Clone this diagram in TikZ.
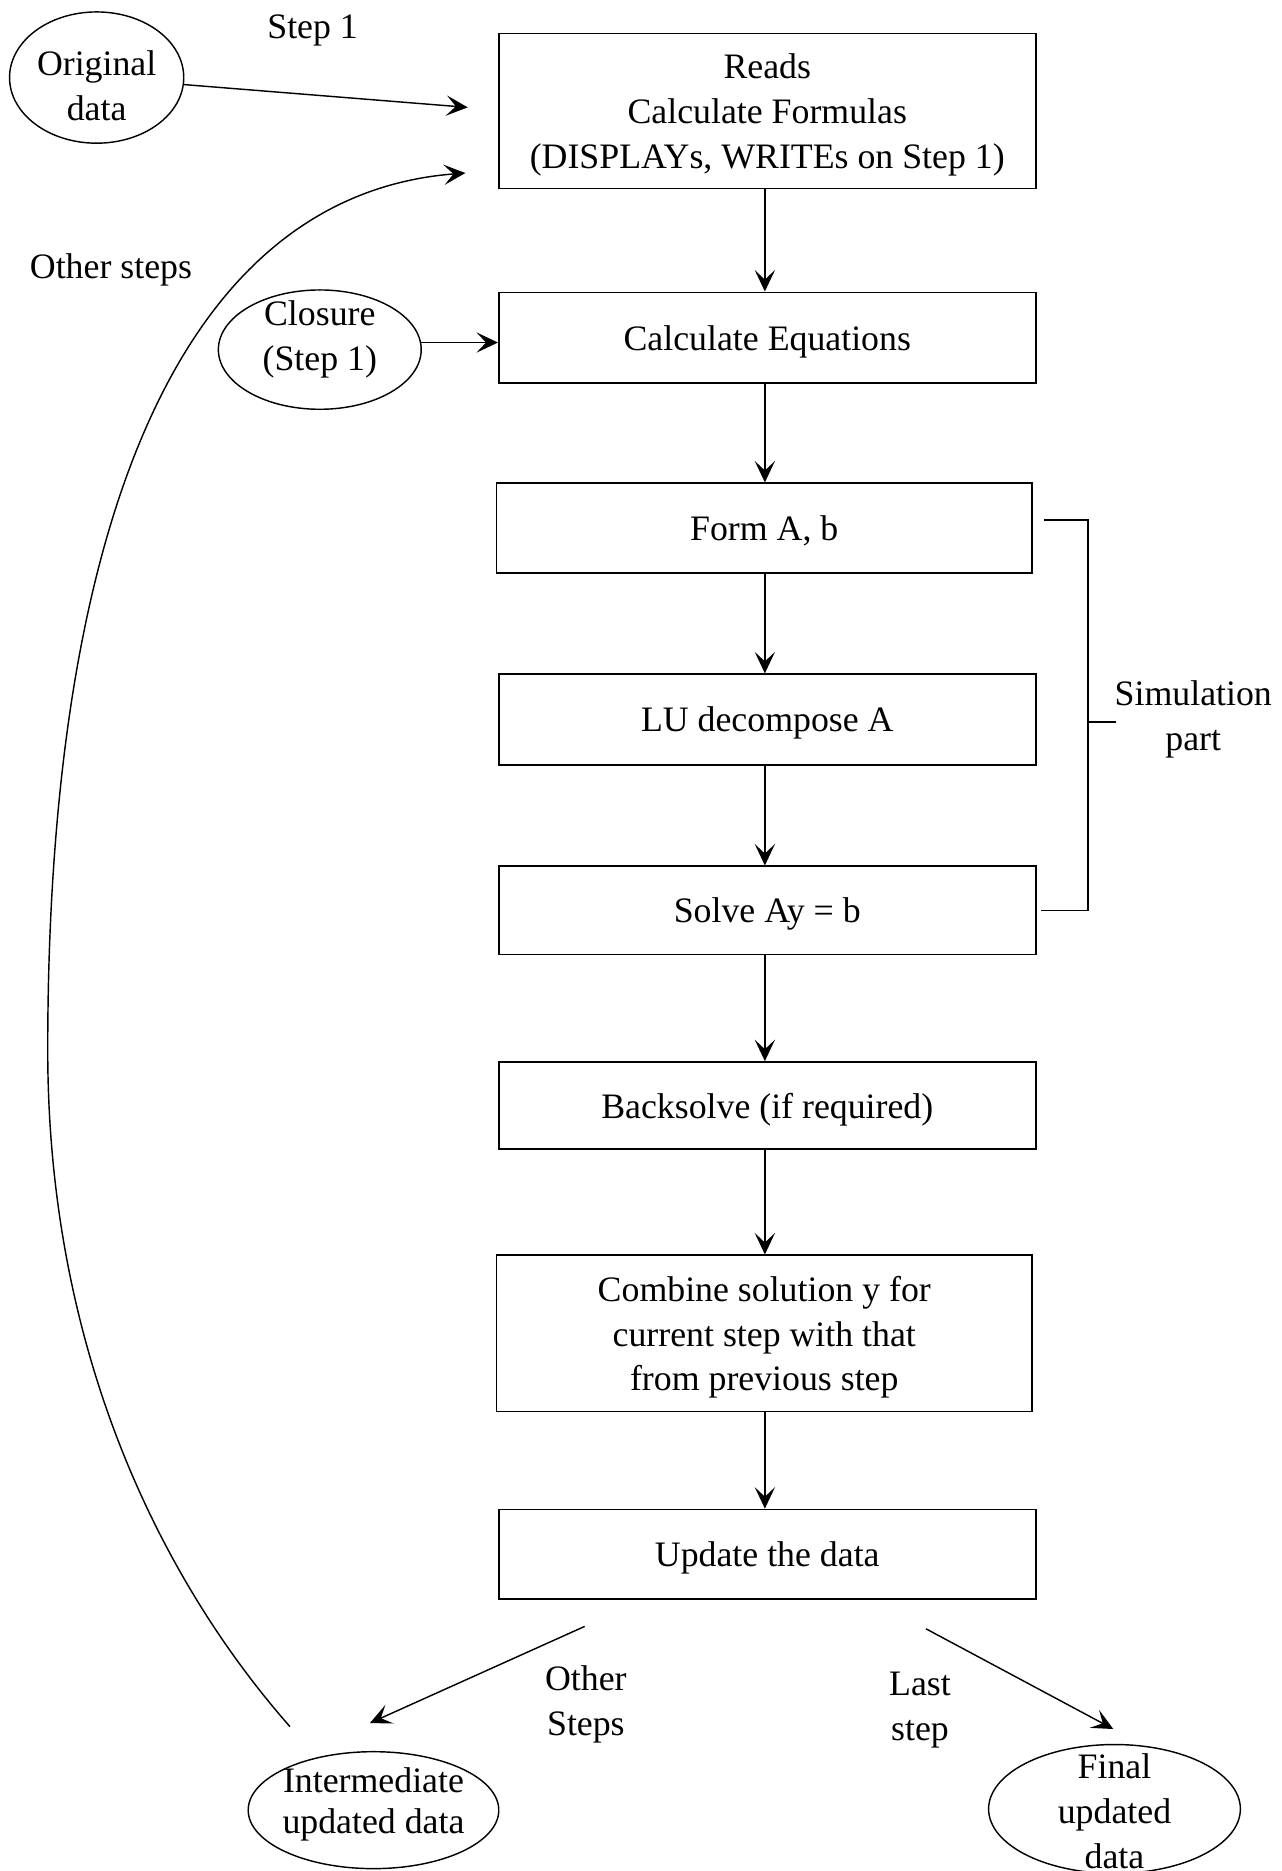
\documentclass[tikz,border=0pt]{standalone}
\usepackage{fontspec}
\setmainfont{Liberation Serif}
\usetikzlibrary{arrows.meta,shapes.geometric}
\begin{document}
\begin{tikzpicture}[x=0.5pt,y=-0.5pt,
  every node/.style={font=\fontsize{15}{18.8}\selectfont},
  stepbox/.style={draw, line width=0.7pt, rectangle, minimum width=225pt, inner sep=0pt, align=center, text depth=0pt},
  databubble/.style={draw, line width=0.6pt, ellipse, inner sep=0pt},
  txt/.style={align=center, inner sep=0pt, text depth=0pt},
  arr/.style={line width=0.6pt, -{Stealth[length=9pt,width=8.5pt,inset=4pt]}},
  bracket/.style={line width=0.7pt}
]
\useasboundingbox (0,0) rectangle (1074,1568);

% main chain of processing steps
\node[stepbox, minimum height=65pt] (b1) at (643,93) {Reads\\Calculate Formulas\\(DISPLAYs, WRITEs on Step 1)};
\node[stepbox, minimum height=38pt] (b2) at (643,283) {Calculate Equations};
\node[stepbox, minimum height=37.5pt, minimum width=224.5pt] (b3) at (640.5,442.5) {Form A, b};
\node[stepbox, minimum height=38pt] (b4) at (643,603) {LU decompose A};
\node[stepbox, minimum height=37pt] (b5) at (643,763) {Solve Ay = b};
\node[stepbox, minimum height=36.5pt] (b6) at (643,926.5) {Backsolve (if required)};
\node[stepbox, minimum height=65.5pt, minimum width=224.5pt] (b7) at (640.5,1117.5) {Combine solution y for\\current step with that\\from previous step};
\node[stepbox, minimum height=37.5pt] (b8) at (643,1302.5) {Update the data};

% data sources and results
\node[databubble, minimum width=73pt, minimum height=55pt] (orig) at (81,65) {};
\node[txt] (origT) at (81,71.5) {Original\\data};
\node[databubble, minimum width=85pt, minimum height=50pt] (clos) at (268,293) {};
\node[txt] (closT) at (268,281) {Closure\\(Step 1)};
\node[databubble, minimum width=105pt, minimum height=49pt] (inter) at (313,1517) {};
\node[txt] (interT) at (313,1509) {Intermediate\\[-2pt]updated data};
\node[databubble, minimum width=105.5pt, minimum height=54pt] (final) at (934,1516) {};
\node[txt] (finalT) at (934,1517.5) {Final\\updated\\data};

% free labels
\node[txt] (lstep) at (262,22) {Step 1};
\node[txt] (lother) at (93,223) {Other steps};
\node[txt] (lotherb) at (491,1425) {Other\\Steps};
\node[txt] (llast) at (771,1430) {Last\\step};
\node[txt] (lsim) at (1000,600) {Simulation\\part};

% vertical flow
\coordinate (ax) at (641,0);
\foreach \a/\b in {b1/b2,b2/b3,b3/b4,b4/b5,b5/b6,b6/b7,b7/b8}
  \draw[arr] (\a.south -| ax) -- (\b.north -| ax);

% inputs
\coordinate (origTip) at (392,90);
\draw[arr] (orig) -- (origTip);
\draw[arr] (clos.4) -- (clos.4 -| b2.west);

% loop back for the other steps
\coordinate (loopS) at (243,1447);
\coordinate (loopM) at (40,880);
\coordinate (loopE) at (390,145);
\draw[arr] (loopS) .. controls (140,1330) and (40,1140) .. (loopM)
                   .. controls (40,420) and (160,163) .. (loopE);

% outputs of the update
\coordinate (splitL) at (490,1363);
\coordinate (tipL) at (310,1444);
\coordinate (splitR) at (776,1365);
\coordinate (tipR) at (933,1449);
\draw[arr] (splitL) -- (tipL);
\draw[arr] (splitR) -- (tipR);

% bracket of the simulation part
\coordinate (brA) at (875,436);
\coordinate (brB) at (912,436);
\coordinate (brC) at (912,763);
\coordinate (brD) at (872,763);
\coordinate (brM) at (912,605);
\coordinate (brT) at (935,605);
\draw[bracket] (brA) -- (brB) -- (brC) -- (brD);
\draw[bracket] (brM) -- (brT);
\end{tikzpicture}
\end{document}
